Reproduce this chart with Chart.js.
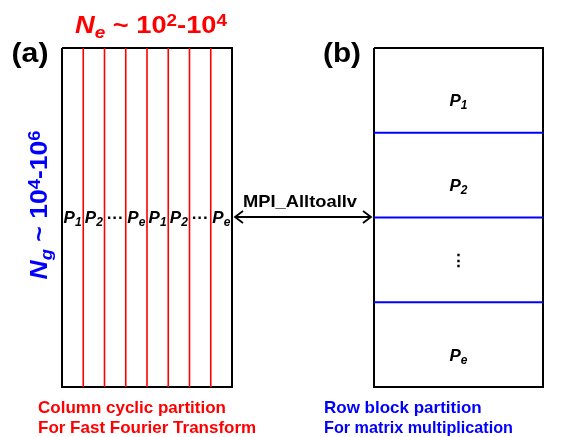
<!DOCTYPE html>
<html>
<head>
<meta charset="utf-8">
<script src="https://cdn.jsdelivr.net/npm/chart.js@4.4.0/dist/chart.umd.min.js"></script>
<style>
  html, body { margin: 0; padding: 0; background: #fff; overflow: hidden; }
  #wrap { width: 573px; height: 437px; position: relative; }
</style>
</head>
<body>
<div id="wrap"><canvas id="myChart"></canvas></div>
<script>
// partition data
const columnLabels = ['1', '2', '...', 'e', '1', '2', '...', 'e'];   // cyclic columns, left matrix
const rowLabels = ['1', '2', ':', 'e'];                             // row blocks, right matrix
const feLabel = ['Column cyclic partition', 'For Fast Fourier Transform'];
const mmLabel = ['Row block partition', 'For matrix multiplication'];
const commLabel = 'MPI_Alltoallv';

// layout (diagram units = pixels)
const boxA = { x0: 62, x1: 232, y0: 48, y1: 387 };
const boxB = { x0: 374, x1: 543, y0: 48, y1: 387 };
const arrowY = 217;

const RED = '#ff0000';
const BLUE = '#0000ff';
const FONT = '"Liberation Sans", Arial, sans-serif';

function seg(x0, y0, x1, y1) {
    return [{ x: x0, y: y0 }, { x: x1, y: y1 }];
}
function lineSet(pts, color, width) {
    return { type: 'line', data: pts, borderColor: color, borderWidth: width, pointRadius: 0, fill: false, tension: 0 };
}

const datasets = [];
const colW = (boxA.x1 - boxA.x0) / columnLabels.length;
for (let i = 1; i < columnLabels.length; i++) {
    const x = boxA.x0 + i * colW;
    datasets.push(lineSet(seg(x, boxA.y0, x, boxA.y1), RED, 1.6));
}
const rowH = (boxB.y1 - boxB.y0) / rowLabels.length;
for (let i = 1; i < rowLabels.length; i++) {
    const y = boxB.y0 + i * rowH;
    datasets.push(lineSet(seg(boxB.x0, y, boxB.x1, y), BLUE, 2));
}
[boxA, boxB].forEach(b => {
    datasets.push(lineSet([
        { x: b.x0, y: b.y0 }, { x: b.x1, y: b.y0 }, { x: b.x1, y: b.y1 },
        { x: b.x0, y: b.y1 }, { x: b.x0, y: b.y0 }
    ], '#000', 2));
});
// arrow shaft and heads
const ax0 = boxA.x1 + 3, ax1 = boxB.x0 - 3;
datasets.push(lineSet(seg(ax0, arrowY, ax1, arrowY), '#000', 1.8));
datasets.push(lineSet([{ x: ax0 + 8, y: arrowY - 6 }, { x: ax0, y: arrowY }, { x: ax0 + 8, y: arrowY + 6 }], '#000', 1.8));
datasets.push(lineSet([{ x: ax1 - 8, y: arrowY - 6 }, { x: ax1, y: arrowY }, { x: ax1 - 8, y: arrowY + 6 }], '#000', 1.8));

// draw a run of text pieces with different fonts / offsets, optionally stretched to a width
function rich(ctx, parts, x, y, align, width) {
    let w = 0;
    parts.forEach(p => { ctx.font = p.f; w += ctx.measureText(p.t).width; });
    const k = width ? width / w : 1;
    ctx.save();
    ctx.translate(x, y);
    ctx.scale(k, 1);
    let cx = align === 'center' ? -w / 2 : 0;
    ctx.textAlign = 'left';
    ctx.textBaseline = 'alphabetic';
    parts.forEach(p => {
        ctx.font = p.f;
        ctx.fillText(p.t, cx, p.dy || 0);
        cx += ctx.measureText(p.t).width;
    });
    ctx.restore();
}
function pLabel(sub, size) {
    if (sub === '...') return [{ t: '\u00b7\u00b7\u00b7', f: 'bold ' + size + 'px ' + FONT }];
    if (sub === ':') return [{ t: '\u22ee', f: 'bold ' + size + 'px ' + FONT }];
    return [
        { t: 'P', f: 'italic bold ' + size + 'px ' + FONT },
        { t: sub, f: 'italic bold ' + Math.round(size * 0.72) + 'px ' + FONT, dy: 3 }
    ];
}

const textPlugin = {
    id: 'diagramText',
    afterDatasetsDraw(chart) {
        const ctx = chart.ctx;
        const sx = v => chart.scales.x.getPixelForValue(v);
        const sy = v => chart.scales.y.getPixelForValue(v);
        ctx.save();
        // panel letters
        ctx.fillStyle = '#000';
        rich(ctx, [{ t: '(a)', f: 'bold 28px ' + FONT }], sx(30), sy(62), 'center', 37);
        rich(ctx, [{ t: '(b)', f: 'bold 28px ' + FONT }], sx(342), sy(62), 'center', 38);
        // Ne title
        ctx.fillStyle = RED;
        const big = 'bold 23px ' + FONT, sup = 'bold 16px ' + FONT;
        rich(ctx, [
            { t: 'N', f: 'italic ' + big },
            { t: 'e', f: 'italic bold 16px ' + FONT, dy: 5 },
            { t: ' ~ 10', f: big },
            { t: '2', f: sup, dy: -7 },
            { t: '-10', f: big },
            { t: '4', f: sup, dy: -7 }
        ], sx(151), sy(33), 'center', 152);
        // Ng vertical
        ctx.fillStyle = BLUE;
        ctx.save();
        ctx.translate(sx(47), sy(205));
        ctx.rotate(-Math.PI / 2);
        rich(ctx, [
            { t: 'N', f: 'italic ' + big },
            { t: 'g', f: 'italic bold 16px ' + FONT, dy: 5 },
            { t: ' ~ 10', f: big },
            { t: '4', f: sup, dy: -7 },
            { t: '-10', f: big },
            { t: '6', f: sup, dy: -7 }
        ], 0, 0, 'center', 149);
        ctx.restore();
        // column labels
        ctx.fillStyle = '#000';
        columnLabels.forEach((s, i) => {
            rich(ctx, pLabel(s, 17), sx(boxA.x0 + (i + 0.5) * colW), sy(arrowY + 6), 'center');
        });
        rowLabels.forEach((s, i) => {
            const off = s === ':' ? 6 : 16;
            rich(ctx, pLabel(s, 17), sx((boxB.x0 + boxB.x1) / 2), sy(boxB.y0 + (i + 0.5) * rowH + off), 'center');
        });
        rich(ctx, [{ t: commLabel, f: 'bold 17px ' + FONT }], sx(300), sy(207), 'center', 114);
        // captions
        ctx.fillStyle = RED;
        rich(ctx, [{ t: feLabel[0], f: 'bold 17px ' + FONT }], sx(38), sy(413), 'left');
        rich(ctx, [{ t: feLabel[1], f: 'bold 17px ' + FONT }], sx(38), sy(433), 'left');
        ctx.fillStyle = BLUE;
        rich(ctx, [{ t: mmLabel[0], f: 'bold 17px ' + FONT }], sx(324), sy(413), 'left');
        rich(ctx, [{ t: mmLabel[1], f: 'bold 17px ' + FONT }], sx(324), sy(433), 'left', 189);
        ctx.restore();
    }
};

const config = {
    type: 'scatter',
    data: { datasets: datasets },
    options: {
        responsive: true,
        maintainAspectRatio: false,
        animation: false,
        layout: { padding: 0 },
        plugins: { legend: { display: false }, tooltip: { enabled: false } },
        scales: {
            x: { type: 'linear', min: 0, max: 573, display: false },
            y: { type: 'linear', min: 0, max: 437, reverse: true, display: false }
        }
    },
    plugins: [textPlugin]
};
var myChart = new Chart(document.getElementById('myChart'), config);
</script>
</body>
</html>
